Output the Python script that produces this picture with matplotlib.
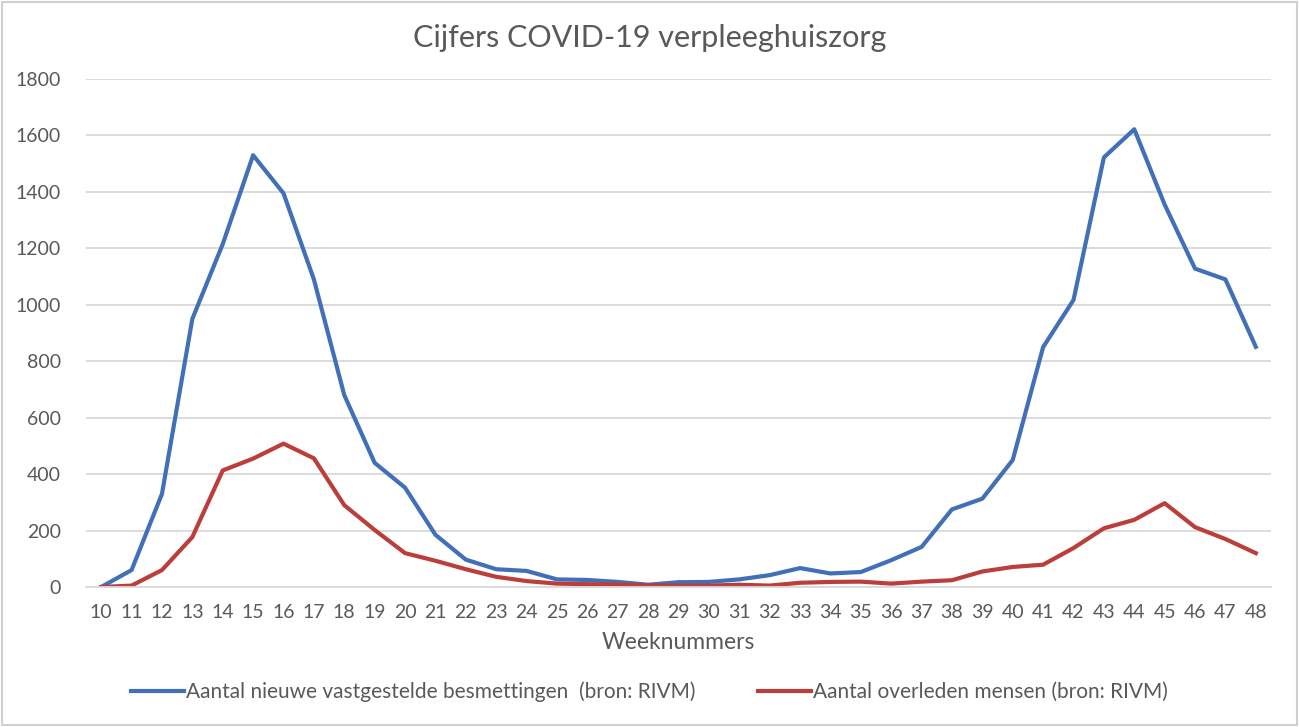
import numpy as np
import matplotlib
matplotlib.use("Agg")
from matplotlib import pyplot as plt
from matplotlib.patches import Rectangle

plt.rcParams['font.family'] = ['Lato', 'DejaVu Sans']

# data
weeks = list(range(10, 49))
besmettingen = [0, 60, 330, 950, 1215, 1530, 1395, 1090, 680, 440,
                352, 185, 97, 63, 57, 27, 25, 18, 8, 17,
                18, 27, 42, 67, 48, 53, 95, 142, 275, 313,
                450, 850, 1017, 1522, 1622, 1355, 1128, 1090, 851]
overleden = [0, 5, 60, 177, 413, 455, 508, 456, 290, 202,
             120, 93, 63, 36, 21, 12, 10, 9, 6, 5,
             5, 8, 5, 15, 18, 19, 12, 19, 24, 55,
             71, 79, 138, 208, 238, 297, 212, 170, 120]
yticks = list(range(0, 2000, 200))

label_blue = "Aantal nieuwe vastgestelde besmettingen  (bron: RIVM)"
label_red = "Aantal overleden mensen (bron: RIVM)"

txt = '#595959'

fig = plt.figure(figsize=(12.99, 7.27), dpi=100)
ax = fig.add_axes([86/1299, 1-587/727, (1271-86)/1299, (587-79)/727])

ax.plot(weeks, besmettingen, color='#4270b8', lw=3.0, label=label_blue, solid_joinstyle='round')
ax.plot(weeks, overleden, color='#bc3e3b', lw=3.0, label=label_red, solid_joinstyle='round')

ax.set_xlim(9.5, 48.5)
ax.set_ylim(0, 1800)
ax.set_xticks(weeks)
ax.set_yticks(yticks)
ax.tick_params(length=0, labelsize=14, colors=txt)
ax.tick_params(axis='x', pad=12)
ax.tick_params(axis='y', pad=18)
ax.grid(axis='y', color='#d9d9d9', lw=1.3)
ax.set_axisbelow(True)
for s in ['top', 'right', 'left']:
    ax.spines[s].set_visible(False)
ax.spines['bottom'].set_color('#d9d9d9')
ax.spines['bottom'].set_linewidth(1.3)

ax.set_xlabel("Weeknummers", fontsize=16.5, color=txt, labelpad=8)
fig.text(0.5, 1-38/727, "Cijfers COVID-19 verpleeghuiszorg", ha='center', va='center',
         fontsize=22, color=txt)

fig.legend(loc='center', bbox_to_anchor=(0.5, 1-692/727), ncol=2, frameon=False,
           fontsize=15, handlelength=2.55, handletextpad=0.1, columnspacing=3.0,
           labelcolor=txt)

fig.add_artist(Rectangle((2/1299, 2/727), 1295/1299, 723/727, transform=fig.transFigure,
                         fill=False, edgecolor='#d0d0d0', lw=1.5))

fig.savefig("out.png", dpi=100)
